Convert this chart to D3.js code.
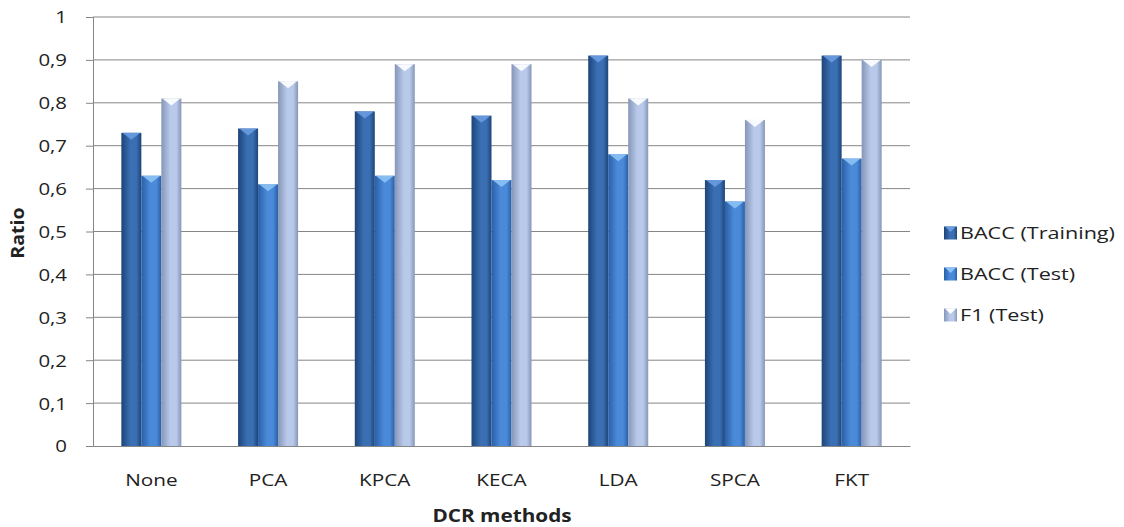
<!DOCTYPE html>
<html><head><meta charset="utf-8">
<script src="https://cdn.jsdelivr.net/npm/d3@7"></script>
<style>body{margin:0;background:#fff}svg{display:block}text{font-family:"Open Sans",sans-serif;fill:#222}</style>
</head><body><svg id="c" width="1124" height="527"></svg>
<script>
const categories = ["None","PCA","KPCA","KECA","LDA","SPCA","FKT"];
const seriesNames = ["BACC (Training)","BACC (Test)","F1 (Test)"];
const bacc_training = [0.73,0.74,0.78,0.77,0.91,0.62,0.91];
const bacc_test = [0.63,0.61,0.63,0.62,0.68,0.57,0.67];
const f1_test = [0.81,0.85,0.89,0.89,0.81,0.76,0.90];
const yTicks = [0,0.1,0.2,0.3,0.4,0.5,0.6,0.7,0.8,0.9,1];
const seriesValues = [bacc_training, bacc_test, f1_test];

const styles = [
  {edge:"#1d4478", mid:"#3a6fb3", cap:"#6a9be0"},
  {edge:"#2a5fa8", mid:"#4a8ad8", cap:"#8cc2f5"},
  {edge:"#8596b8", mid:"#b8c9ea", cap:"#ffffff"}
];

const svg = d3.select("#c");
const defs = svg.append("defs");
styles.forEach((s,i)=>{
  const g = defs.append("linearGradient").attr("id","g"+i).attr("x1","0").attr("x2","1").attr("y1","0").attr("y2","0");
  g.append("stop").attr("offset","0").attr("stop-color",s.edge);
  g.append("stop").attr("offset","0.45").attr("stop-color",s.mid);
  g.append("stop").attr("offset","0.75").attr("stop-color",s.mid);
  g.append("stop").attr("offset","1").attr("stop-color",s.edge);
});

const L=93, R=910, T=17, B=446;
const x = d3.scaleBand().domain(categories).range([L,R]);
const y = d3.scaleLinear().domain([0,1]).range([B,T]);
const barW = 20;
const inner = d3.scaleBand().domain(d3.range(3)).range([0,barW*3]);
const FS = 17;

// gridlines
svg.append("g").selectAll("line").data(yTicks.filter(d=>d>0)).join("line")
  .attr("x1",L).attr("x2",R).attr("y1",d=>y(d)).attr("y2",d=>y(d))
  .attr("stroke","#868686").attr("stroke-width",1);

// y axis
const yAxis = d3.axisLeft(y).tickValues(yTicks).tickSize(7).tickPadding(19)
  .tickFormat(d=>d3.format("~g")(d).replace(".",","));
const ya = svg.append("g").attr("transform",`translate(${L},0)`).call(yAxis);
ya.select(".domain").attr("stroke","#868686");
ya.selectAll(".tick line").attr("stroke","#868686");
ya.selectAll("text").attr("font-size",FS).attr("fill","#222").attr("dy","0.35em").attr("data-k",1.2).classed("st",true);

// x axis
const xAxis = d3.axisBottom(x).tickSize(0).tickPadding(40);
const xa = svg.append("g").attr("transform",`translate(0,${B})`).call(xAxis);
xa.select(".domain").attr("stroke","#868686");
xa.selectAll("text").attr("font-size",FS).attr("fill","#222").attr("dy","0").attr("data-k",1.22).classed("st",true);

// bars
seriesValues.forEach((vals,si)=>{
  const g = svg.append("g");
  const data = categories.map((c,i)=>({c,v:vals[i]}));
  const x0 = d=> x(d.c)+x.bandwidth()/2 - barW*1.5 + inner(si);
  g.selectAll("rect").data(data).join("rect")
    .attr("x",x0).attr("y",d=>y(d.v)).attr("width",barW).attr("height",d=>B-y(d.v))
    .attr("fill",`url(#g${si})`);
  g.selectAll("path").data(data).join("path")
    .attr("d",d=>{const a=x0(d), t=y(d.v); return `M${a+1},${t}L${a+barW-1},${t}L${a+barW/2},${t+7}Z`;})
    .attr("fill",styles[si].cap).attr("opacity",0.9);
});

// axis titles
svg.append("text").attr("transform","translate(24,233) rotate(-90)").attr("text-anchor","middle")
  .attr("font-size",FS).attr("font-weight","bold").attr("data-k",1.15).classed("st",true).text("Ratio");
svg.append("text").attr("x",502).attr("y",522).attr("text-anchor","middle")
  .attr("font-size",FS).attr("font-weight","bold").attr("data-k",1.22).classed("st",true).text("DCR methods");

// legend
const lg = svg.append("g");
const ly = [233,274,315];
seriesNames.forEach((n,i)=>{
  lg.append("rect").attr("x",944).attr("y",ly[i]-6.5).attr("width",13).attr("height",13).attr("fill",`url(#g${i})`);
  lg.append("path").attr("d",`M945,${ly[i]-6.5}L956,${ly[i]-6.5}L950.5,${ly[i]-1}Z`).attr("fill",styles[i].cap);
  lg.append("text").attr("x",960).attr("y",ly[i]).attr("dy","0.35em").attr("font-size",FS).attr("data-k",1.27).classed("st",true).text(n);
});

// horizontal stretch of text to mimic the original's wide rendering
svg.selectAll("text.st").each(function(){
  const w = this.getComputedTextLength();
  const k = +this.getAttribute("data-k");
  d3.select(this).attr("textLength", w*k).attr("lengthAdjust","spacingAndGlyphs");
});
</script></body></html>
